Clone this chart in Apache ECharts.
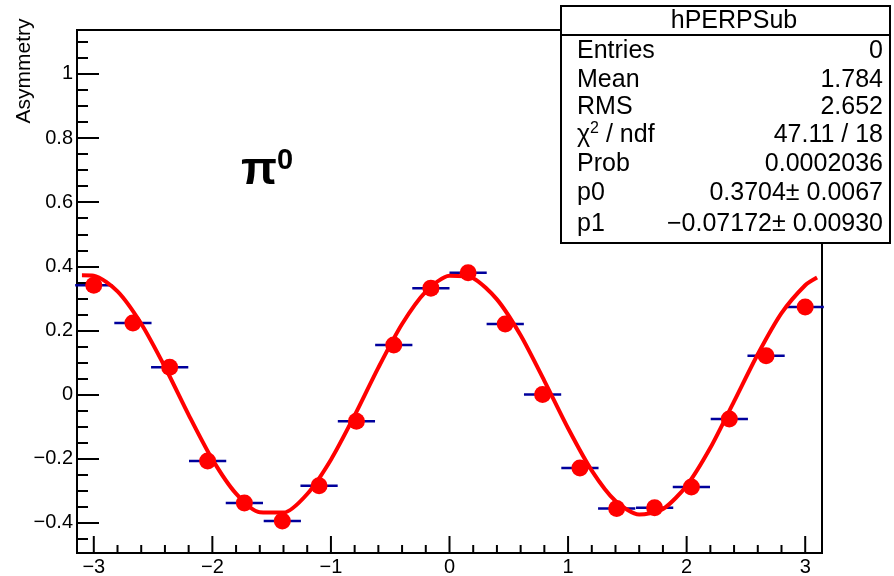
<!DOCTYPE html>
<html>
<head>
<meta charset="utf-8">
<script src="https://cdn.jsdelivr.net/npm/echarts@6.0.0/dist/echarts.min.js"></script>
<style>
  html, body { margin: 0; padding: 0; background: #fff; }
  #main { width: 894px; height: 576px; }
</style>
</head>
<body>
<div id="main"></div>
<script>
var binCenters = [-3.0, -2.67, -2.36, -2.04, -1.73, -1.41, -1.10, -0.785, -0.47, -0.157,
                  0.157, 0.47, 0.785, 1.10, 1.41, 1.73, 2.04, 2.36, 2.67, 3.0];
var asymValues = [0.341, 0.223, 0.085, -0.207, -0.338, -0.394, -0.284, -0.083, 0.155, 0.332,
                  0.380, 0.220, 0.000, -0.229, -0.355, -0.353, -0.288, -0.076, 0.121, 0.273];
var binWidth = 0.314;

// fit curve, points
var fitX = [-3.1, -3.0, -2.8, -2.6, -2.4, -2.2, -2.0, -1.8, -1.6, -1.4, -1.2, -1.0, -0.8, -0.6, -0.4, -0.2,
            0.0, 0.2, 0.4, 0.6, 0.8, 1.0, 1.2, 1.4, 1.6, 1.8, 2.0, 2.2, 2.4, 2.6, 2.8, 3.0, 3.1];
var fitY = [0.372, 0.371, 0.322, 0.221, 0.086, -0.063, -0.202, -0.309, -0.367, -0.368, -0.310, -0.203, -0.065, 0.084, 0.220, 0.321,
            0.371, 0.363, 0.297, 0.185, 0.043, -0.105, -0.237, -0.332, -0.374, -0.357, -0.284, -0.166, -0.021, 0.126, 0.254, 0.341, 0.365];

// axis ticks
var xTicks = [-3, -2, -1, 0, 1, 2, 3];
var yTicks = [-0.4, -0.2, 0, 0.2, 0.4, 0.6, 0.8, 1];
var xMin = -Math.PI, xMax = Math.PI;
var yMin = -0.494, yMax = 1.137;

var xMinor = [];
for (var i = -15; i <= 15; i++) {
  var v = Math.round(i * 0.2 * 10) / 10;
  if (i % 5 !== 0 && v > xMin && v < xMax) xMinor.push(v);
}
var yMinor = [];
for (var j = -9; j <= 22; j++) {
  var w = Math.round(j * 0.05 * 100) / 100;
  if (j % 4 !== 0 && w > yMin && w < yMax) yMinor.push(w);
}

// stats box rows
var statNames = ['Entries', 'Mean', 'RMS', '{chi|χ}{sup|2} / ndf', 'Prob', 'p0', 'p1'];
var statValues = ['0', '1.784', '2.652', '47.11 / 18', '0.0002036', '0.3704± 0.0067', '−0.07172± 0.00930'];
var statRowsY = [51, 80, 107, 135, 164, 193, 224];

function fmt(v) { return String(v).replace('-', '\u2212'); }

var points = binCenters.map(function (x, k) { return [x, asymValues[k]]; });
var fitLine = fitX.map(function (x, k) { return [x, fitY[k]]; });
var xTickData = xTicks.map(function (t) { return [t, 1]; })
  .concat(xMinor.map(function (t) { return [t, 0]; }));

var myChart = echarts.init(document.getElementById('main'));

var graphics = [
  {
    type: 'text', x: 24, y: 71, rotation: Math.PI / 2,
    style: { text: 'Asymmetry', font: '21px "Liberation Sans", Arial, sans-serif', fill: '#000', align: 'center', verticalAlign: 'middle' }
  },
  {
    type: 'text', x: 241, y: 146,
    style: {
      text: '{p|π}{s|0}',
      rich: {
        p: { fontFamily: '"Liberation Sans", Arial, sans-serif', fontWeight: 'bold', fontSize: 47, fill: '#000', verticalAlign: 'bottom' },
        s: { fontFamily: '"Liberation Sans", Arial, sans-serif', fontWeight: 'bold', fontSize: 29, fill: '#000', verticalAlign: 'top', padding: [0, 0, 20, 0] }
      }
    }
  },
  {
    type: 'rect', z: 10,
    shape: { x: 561, y: 6, width: 329, height: 237 },
    style: { fill: '#fff', stroke: '#000', lineWidth: 2 }
  },
  {
    type: 'line', z: 11,
    shape: { x1: 561, y1: 35, x2: 890, y2: 35 },
    style: { stroke: '#000', lineWidth: 2 }
  },
  {
    type: 'text', z: 11, x: 734, y: 21,
    style: { text: 'hPERPSub', font: '25px "Liberation Sans", Arial, sans-serif', fill: '#000', align: 'center', verticalAlign: 'middle' }
  }
];

statNames.forEach(function (name, k) {
  graphics.push({
    type: 'text', z: 11, x: 577, y: statRowsY[k],
    style: {
      text: name, font: '25px "Liberation Sans", Arial, sans-serif', fill: '#000', verticalAlign: 'middle',
      rich: {
        chi: { fontSize: 25, fontFamily: '"Liberation Sans", Arial, sans-serif' },
        sup: { fontSize: 16, fontFamily: '"Liberation Sans", Arial, sans-serif', padding: [0, 0, 12, 0] }
      }
    }
  });
  graphics.push({
    type: 'text', z: 11, x: 883, y: statRowsY[k],
    style: { text: statValues[k], font: '25px "Liberation Sans", Arial, sans-serif', fill: '#000', align: 'right', verticalAlign: 'middle' }
  });
});

var labelStyle = { color: '#000', fontSize: 20, fontFamily: '"Liberation Sans", Arial, sans-serif' };

var option = {
  animation: false,
  backgroundColor: '#fff',
  grid: { left: 77, right: 72, top: 30, bottom: 23, show: true, borderColor: '#000', borderWidth: 2, outerBoundsMode: 'none', containLabel: false },
  xAxis: {
    type: 'value', min: xMin, max: xMax,
    axisLine: { show: true, onZero: false, lineStyle: { color: '#000', width: 2 } },
    axisTick: { show: false },
    axisLabel: Object.assign({ customValues: xTicks, margin: 4, formatter: fmt }, labelStyle),
    splitLine: { show: false }
  },
  yAxis: [
    {
      type: 'value', min: yMin, max: yMax, position: 'left',
      axisLine: { show: true, onZero: false, lineStyle: { color: '#000', width: 2 } },
      axisTick: { show: true, inside: true, length: 22, customValues: yTicks, lineStyle: { color: '#000', width: 2 } },
      axisLabel: Object.assign({ customValues: yTicks, margin: 4, formatter: fmt }, labelStyle),
      splitLine: { show: false }
    },
    {
      type: 'value', min: yMin, max: yMax, position: 'left', offset: 0,
      axisLine: { show: false, onZero: false },
      axisTick: { show: true, inside: true, length: 11, customValues: yMinor, lineStyle: { color: '#000', width: 2 } },
      axisLabel: { show: false },
      splitLine: { show: false }
    }
  ],
  graphic: graphics,
  series: [
    {
      name: 'bins', type: 'custom', z: 1,
      data: points,
      renderItem: function (params, api) {
        var x = api.value(0), y = api.value(1);
        var a = api.coord([x - binWidth / 2, y]);
        var b = api.coord([x + binWidth / 2, y]);
        return { type: 'line', shape: { x1: a[0], y1: a[1], x2: b[0], y2: b[1] }, style: { stroke: '#00009c', lineWidth: 2.5 } };
      }
    },
    {
      name: 'fit', type: 'line', z: 2,
      data: fitLine, smooth: 0.25, showSymbol: false,
      lineStyle: { color: '#ff0000', width: 4 }
    },
    {
      name: 'asym', type: 'scatter', z: 3,
      data: points, symbol: 'circle', symbolSize: 17,
      itemStyle: { color: '#ff0000', opacity: 1 }
    },
    {
      // x-axis ticks, placed through the x scale
      name: 'xticks', type: 'custom', z: 4, silent: true,
      data: xTickData,
      renderItem: function (params, api) {
        var p = api.coord([api.value(0), yMin]);
        var len = api.value(1) ? 17 : 8;
        return { type: 'line', shape: { x1: p[0], y1: p[1], x2: p[0], y2: p[1] - len }, style: { stroke: '#000', lineWidth: 2 } };
      }
    }
  ]
};

myChart.setOption(option);
</script>
</body>
</html>
